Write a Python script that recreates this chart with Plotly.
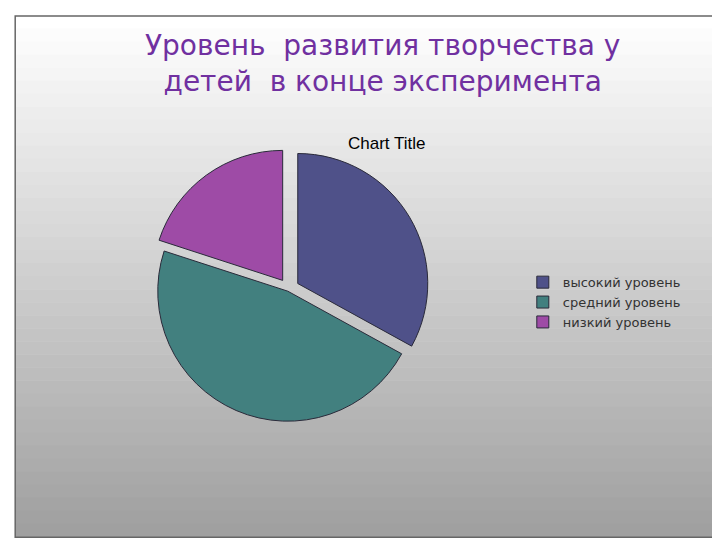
import plotly.graph_objects as go

levels = ["высокий уровень", "средний уровень", "низкий уровень"]
shares = [33, 47, 20]
colors = ["#4F5189", "#42807F", "#9E4BA6"]

fig = go.Figure()
fig.add_trace(go.Pie(
    labels=levels, values=shares, sort=False, direction="clockwise", rotation=0,
    marker=dict(colors=colors, line=dict(color="#2a2a3a", width=1)),
    pull=[0.08, 0.02, 0.08], textinfo="none", hoverinfo="label+percent",
    domain=dict(x=[0.09, 0.69], y=[0.22, 0.74]),
))

# slide background: gradient white -> grey, built from thin bands
shapes = []
n = 40
top, bot = 0.985, 0.02
for i in range(n):
    t = i / (n - 1)
    g = int(255 - t * (255 - 160))
    h = (top - bot) / n
    shapes.append(dict(type="rect", xref="paper", yref="paper", layer="below",
                       x0=0.01, x1=0.985, y0=top - (i + 1) * h, y1=top - i * h + 0.001,
                       line=dict(width=0), fillcolor=f"rgb({g},{g},{g})"))
shapes.append(dict(type="rect", xref="paper", yref="paper", x0=0.01, x1=0.985, y0=bot, y1=top,
                   line=dict(color="#666", width=1.5), fillcolor="rgba(0,0,0,0)"))

fig.update_layout(
    width=720, height=540, margin=dict(l=0, r=0, t=0, b=0),
    paper_bgcolor="white", plot_bgcolor="white", shapes=shapes,
    showlegend=True,
    legend=dict(x=0.715, y=0.52, xanchor="left", yanchor="top", bgcolor="rgba(0,0,0,0)",
                font=dict(family="DejaVu Sans", size=13, color="#333"), itemwidth=30, tracegroupgap=0),
    annotations=[
        dict(text="Уровень  развития творчества у<br>детей  в конце эксперимента", x=0.52, y=0.965,
             xref="paper", yref="paper", xanchor="center", yanchor="top", showarrow=False,
             font=dict(family="DejaVu Sans", size=28, color="#7030A0")),
        dict(text="Chart Title", x=0.525, y=0.75, xref="paper", yref="paper",
             xanchor="center", yanchor="middle", showarrow=False,
             font=dict(family="Liberation Sans", size=17, color="black")),
    ],
)
fig.write_html("out.html")
